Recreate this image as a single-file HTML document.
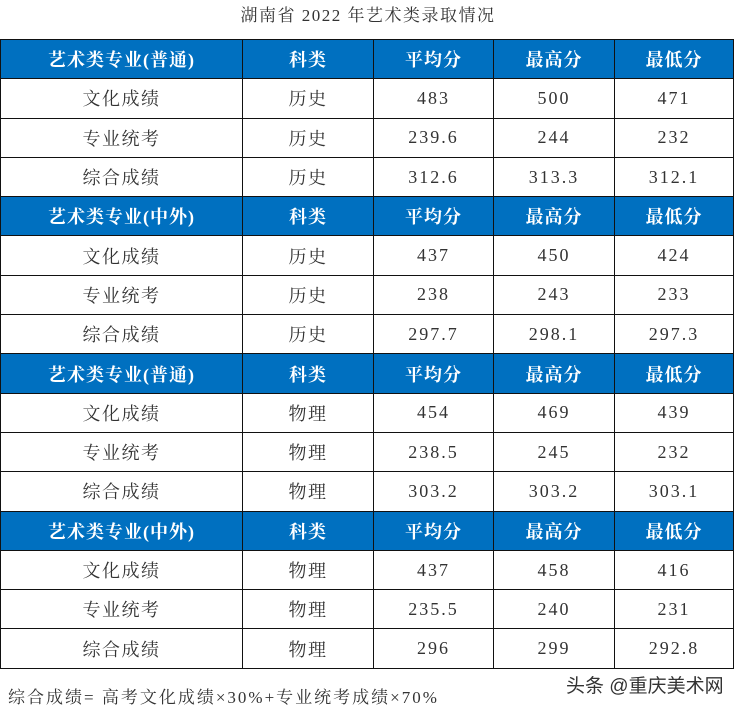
<!DOCTYPE html>
<html><head><meta charset="utf-8"><style>
body{margin:0;width:736px;height:708px;background:#fff;position:relative;overflow:hidden;font-family:"Liberation Serif","Noto Serif CJK SC",serif;color:#222}
.title{position:absolute;top:1px;left:0;width:736px;text-align:center;font-size:17px;color:#333;letter-spacing:1.5px}
table{position:absolute;left:0;top:39px;border-collapse:collapse;table-layout:fixed}
td{border:1px solid #111;height:38.3px;padding:0;text-align:center;font-size:18px;color:#333;letter-spacing:1.5px}
td.n{letter-spacing:2px}
tr.h td{background:#0070c0;color:#fff;font-weight:bold;border-color:#111;letter-spacing:1px}
.foot{position:absolute;left:8px;top:683px;font-size:17px;color:#333;letter-spacing:2px}
.wm{position:absolute;left:566px;top:671px;font-size:19px;color:#333;font-family:"Liberation Sans","Noto Sans CJK SC",sans-serif;text-shadow:0 0 2px #fff}
</style></head><body>
<div class="title">湖南省 2022 年艺术类录取情况</div>
<table>
<colgroup><col style="width:242px"><col style="width:131px"><col style="width:120px"><col style="width:121px"><col style="width:119px"></colgroup>
<tr class="h"><td>艺术类专业(普通)</td><td>科类</td><td>平均分</td><td>最高分</td><td>最低分</td></tr>
<tr><td>文化成绩</td><td>历史</td><td class="n">483</td><td class="n">500</td><td class="n">471</td></tr>
<tr><td>专业统考</td><td>历史</td><td class="n">239.6</td><td class="n">244</td><td class="n">232</td></tr>
<tr><td>综合成绩</td><td>历史</td><td class="n">312.6</td><td class="n">313.3</td><td class="n">312.1</td></tr>
<tr class="h"><td>艺术类专业(中外)</td><td>科类</td><td>平均分</td><td>最高分</td><td>最低分</td></tr>
<tr><td>文化成绩</td><td>历史</td><td class="n">437</td><td class="n">450</td><td class="n">424</td></tr>
<tr><td>专业统考</td><td>历史</td><td class="n">238</td><td class="n">243</td><td class="n">233</td></tr>
<tr><td>综合成绩</td><td>历史</td><td class="n">297.7</td><td class="n">298.1</td><td class="n">297.3</td></tr>
<tr class="h"><td>艺术类专业(普通)</td><td>科类</td><td>平均分</td><td>最高分</td><td>最低分</td></tr>
<tr><td>文化成绩</td><td>物理</td><td class="n">454</td><td class="n">469</td><td class="n">439</td></tr>
<tr><td>专业统考</td><td>物理</td><td class="n">238.5</td><td class="n">245</td><td class="n">232</td></tr>
<tr><td>综合成绩</td><td>物理</td><td class="n">303.2</td><td class="n">303.2</td><td class="n">303.1</td></tr>
<tr class="h"><td>艺术类专业(中外)</td><td>科类</td><td>平均分</td><td>最高分</td><td>最低分</td></tr>
<tr><td>文化成绩</td><td>物理</td><td class="n">437</td><td class="n">458</td><td class="n">416</td></tr>
<tr><td>专业统考</td><td>物理</td><td class="n">235.5</td><td class="n">240</td><td class="n">231</td></tr>
<tr><td>综合成绩</td><td>物理</td><td class="n">296</td><td class="n">299</td><td class="n">292.8</td></tr>
</table>
<div class="foot">综合成绩= 高考文化成绩×30%+专业统考成绩×70%</div>
<div class="wm">头条 @重庆美术网</div>
</body></html>
